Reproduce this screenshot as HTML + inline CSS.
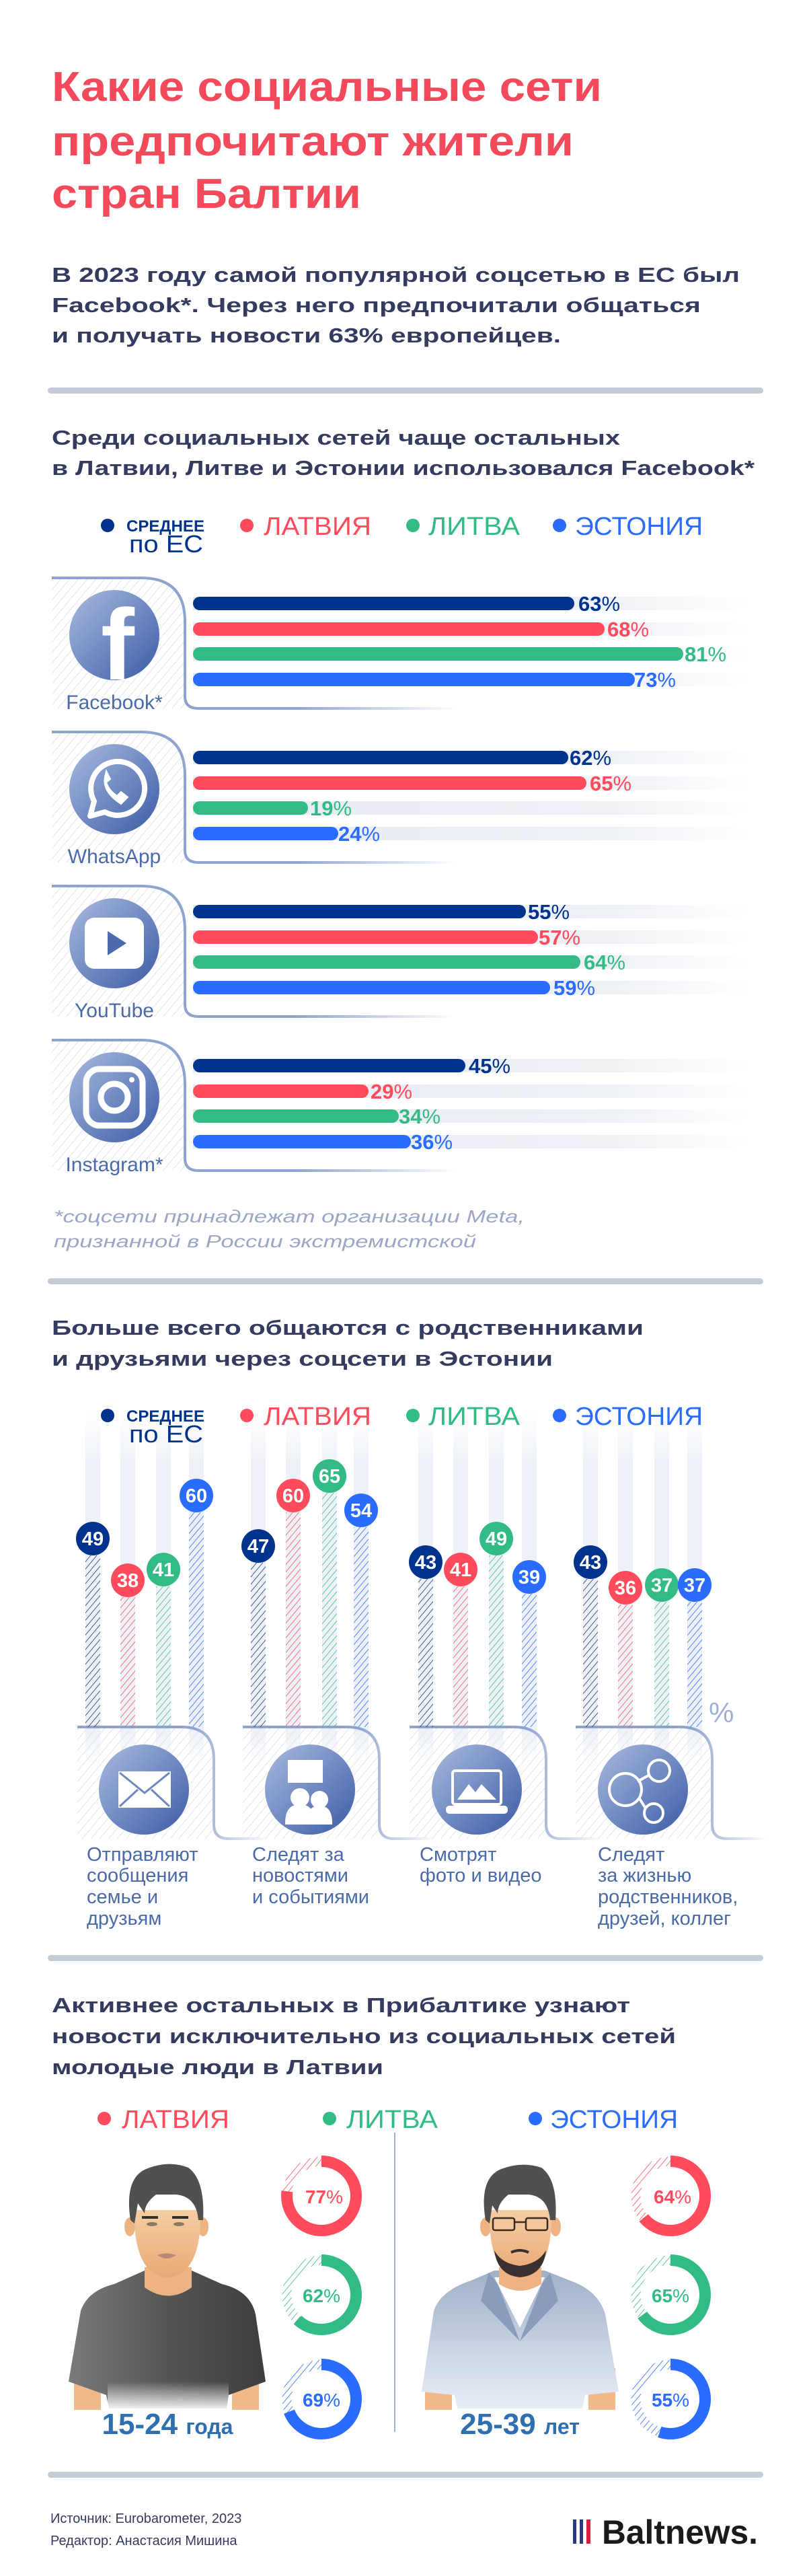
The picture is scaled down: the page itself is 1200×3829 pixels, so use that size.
<!DOCTYPE html>
<html><head><meta charset="utf-8"><style>
html,body{margin:0;padding:0;background:#fff}
svg{display:block}
text{font-family:"Liberation Sans",sans-serif}
</style></head><body>
<svg width="1200" height="3829" viewBox="0 0 1200 3829" xmlns="http://www.w3.org/2000/svg">
<defs>
<pattern id="hg" width="10" height="10" patternUnits="userSpaceOnUse" patternTransform="rotate(40)"><line x1="0" y1="0" x2="0" y2="10" stroke="#dfe4ee" stroke-width="2"/></pattern>
<pattern id="hN" width="7" height="7" patternUnits="userSpaceOnUse" patternTransform="rotate(40)"><line x1="0" y1="0" x2="0" y2="7" stroke="#1d3577" stroke-width="1.6"/></pattern>
<pattern id="hR" width="7" height="7" patternUnits="userSpaceOnUse" patternTransform="rotate(40)"><line x1="0" y1="0" x2="0" y2="7" stroke="#ff4b5c" stroke-width="1.6"/></pattern>
<pattern id="hG" width="7" height="7" patternUnits="userSpaceOnUse" patternTransform="rotate(40)"><line x1="0" y1="0" x2="0" y2="7" stroke="#33bb85" stroke-width="1.6"/></pattern>
<pattern id="hB" width="7" height="7" patternUnits="userSpaceOnUse" patternTransform="rotate(40)"><line x1="0" y1="0" x2="0" y2="7" stroke="#2a6cff" stroke-width="1.6"/></pattern>
<linearGradient id="ic" x1="0" y1="0" x2="1" y2="1"><stop offset="0" stop-color="#a9bbdf"/><stop offset="1" stop-color="#3b5ba6"/></linearGradient>
<linearGradient id="trk" x1="0" x2="1"><stop offset="0" stop-color="#e6ebf3"/><stop offset="0.75" stop-color="#eef1f6"/><stop offset="1" stop-color="#fff"/></linearGradient>
<linearGradient id="btm" x1="0" x2="1"><stop offset="0" stop-color="#8fa3cf"/><stop offset="0.6" stop-color="#8fa3cf"/><stop offset="1" stop-color="#fff"/></linearGradient>
<linearGradient id="vt" x1="0" y1="0" x2="0" y2="1"><stop offset="0" stop-color="#fff"/><stop offset="0.15" stop-color="#eef2f8"/><stop offset="0.9" stop-color="#eef2f8"/><stop offset="1" stop-color="#fff"/></linearGradient>
<linearGradient id="shirt" x1="0" x2="1"><stop offset="0" stop-color="#7a7a7a"/><stop offset="0.5" stop-color="#555"/><stop offset="1" stop-color="#3e3e3e"/></linearGradient>
<linearGradient id="jack" x1="0" y1="0" x2="0" y2="1"><stop offset="0" stop-color="#9fb0c8"/><stop offset="1" stop-color="#e8eef8"/></linearGradient>
<linearGradient id="skin" x1="0" y1="0" x2="0" y2="1"><stop offset="0" stop-color="#f6cfa4"/><stop offset="1" stop-color="#e8a874"/></linearGradient>
<linearGradient id="fadeW" x1="0" y1="0" x2="0" y2="1"><stop offset="0" stop-color="#fff" stop-opacity="0"/><stop offset="1" stop-color="#fff" stop-opacity="0.95"/></linearGradient>
</defs>

<!-- Title -->
<g fill="#f24a5b" font-weight="bold" font-size="62">
<text x="77" y="150" textLength="818" lengthAdjust="spacingAndGlyphs">Какие социальные сети</text>
<text x="77" y="231" textLength="776" lengthAdjust="spacingAndGlyphs">предпочитают жители</text>
<text x="77" y="309" textLength="460" lengthAdjust="spacingAndGlyphs">стран Балтии</text>
</g>
<g fill="#353b5e" font-weight="bold" font-size="31">
<text x="77" y="419" textLength="1023" lengthAdjust="spacingAndGlyphs">В 2023 году самой популярной соцсетью в ЕС был</text>
<text x="77" y="464" textLength="965" lengthAdjust="spacingAndGlyphs">Facebook*. Через него предпочитали общаться</text>
<text x="77" y="509" textLength="757" lengthAdjust="spacingAndGlyphs">и получать новости 63% европейцев.</text>
</g>
<rect x="71" y="576" width="1064" height="9" rx="4.5" fill="#c4ccd8"/>

<g fill="#353b5e" font-weight="bold" font-size="31">
<text x="77" y="661" textLength="845" lengthAdjust="spacingAndGlyphs">Среди социальных сетей чаще остальных</text>
<text x="77" y="706" textLength="1045" lengthAdjust="spacingAndGlyphs">в Латвии, Литве и Эстонии использовался Facebook*</text>
</g>

<!-- Legend 1 -->
<g id="leg1">
<circle cx="160" cy="781" r="10" fill="#00338d"/>
<text x="188" y="790" font-size="24" font-weight="bold" fill="#00338d" textLength="116" lengthAdjust="spacingAndGlyphs">СРЕДНЕЕ</text>
<text x="192" y="821" font-size="36" fill="#00338d" textLength="110" lengthAdjust="spacingAndGlyphs">по ЕС</text>
<circle cx="367" cy="781" r="10" fill="#ff4b5c"/>
<text x="392" y="795" font-size="38" fill="#ff4b5c" textLength="160" lengthAdjust="spacingAndGlyphs">ЛАТВИЯ</text>
<circle cx="614" cy="781" r="10" fill="#33bb85"/>
<text x="637" y="795" font-size="38" fill="#33bb85" textLength="136" lengthAdjust="spacingAndGlyphs">ЛИТВА</text>
<circle cx="832" cy="781" r="10" fill="#2a6cff"/>
<text x="855" y="795" font-size="38" fill="#2a6cff" textLength="190" lengthAdjust="spacingAndGlyphs">ЭСТОНИЯ</text>
</g>

<!-- Cards -->
<g id="card0" transform="translate(0,859)">
<path d="M77 0 H210 Q275 0 275 65 V180 Q275 194 292 194 H77 Z" fill="url(#hg)"/>
<path d="M77 0 H210 Q275 0 275 65 V176 Q275 194 295 194 H680" fill="none" stroke="url(#btm)" stroke-width="4"/>
<rect x="287" y="28" width="830" height="20" fill="url(#trk)"/>
<rect x="287" y="66" width="830" height="20" fill="url(#trk)"/>
<rect x="287" y="103" width="830" height="20" fill="url(#trk)"/>
<rect x="287" y="141" width="830" height="20" fill="url(#trk)"/>
<circle cx="170" cy="85" r="67" fill="url(#ic)"/>
</g>
<use href="#card0" transform="translate(0,229)"/>
<use href="#card0" transform="translate(0,458)"/>
<use href="#card0" transform="translate(0,687)"/>

<!-- icons -->
<text x="175" y="1010" font-size="150" font-weight="bold" fill="#fff" text-anchor="middle">f</text>
<g transform="translate(170,1173)" fill="none" stroke="#fff" stroke-width="8">
<path d="M-36 40 L-30 18 A40 40 0 1 1 -14 34 Z" stroke-linejoin="round"/>
<path d="M-14 -18 q-4 22 24 40 l10 -10 l-10 -8 l-6 6 q-12 -8 -16 -20 l6 -5 l-6 -12 z" fill="#fff" stroke-width="2"/>
</g>
<g transform="translate(170,1402)">
<rect x="-44" y="-38" width="88" height="76" rx="14" fill="#fff"/>
<path d="M-10 -18 L18 0 L-10 18 Z" fill="#4d6aae"/>
</g>
<g transform="translate(170,1631)" fill="none" stroke="#fff" stroke-width="9">
<rect x="-42" y="-42" width="84" height="84" rx="20"/>
<circle cx="0" cy="0" r="20"/>
<circle cx="26" cy="-26" r="4" fill="#fff" stroke="none"/>
</g>

<g font-size="30" fill="#4a6aa8" text-anchor="middle">
<text x="170" y="1054">Facebook*</text>
<text x="170" y="1283">WhatsApp</text>
<text x="170" y="1512">YouTube</text>
<text x="170" y="1741">Instagram*</text>
</g>

<!-- bars -->
<g font-size="31" font-weight="bold">
<rect x="287" y="887" width="567" height="20" rx="10" fill="#00338d"/><text x="860" y="908" fill="#00338d">63<tspan font-weight="normal">%</tspan></text>
<rect x="287" y="925" width="612" height="20" rx="10" fill="#ff4b5c"/><text x="903" y="946" fill="#ff4b5c">68<tspan font-weight="normal">%</tspan></text>
<rect x="287" y="962" width="729" height="20" rx="10" fill="#33bb85"/><text x="1018" y="983" fill="#33bb85">81<tspan font-weight="normal">%</tspan></text>
<rect x="287" y="1000" width="657" height="20" rx="10" fill="#2a6cff"/><text x="943" y="1021" fill="#2a6cff">73<tspan font-weight="normal">%</tspan></text>

<rect x="287" y="1116" width="558" height="20" rx="10" fill="#00338d"/><text x="847" y="1137" fill="#00338d">62<tspan font-weight="normal">%</tspan></text>
<rect x="287" y="1154" width="585" height="20" rx="10" fill="#ff4b5c"/><text x="877" y="1175" fill="#ff4b5c">65<tspan font-weight="normal">%</tspan></text>
<rect x="287" y="1191" width="171" height="20" rx="10" fill="#33bb85"/><text x="461" y="1212" fill="#33bb85">19<tspan font-weight="normal">%</tspan></text>
<rect x="287" y="1229" width="216" height="20" rx="10" fill="#2a6cff"/><text x="503" y="1250" fill="#2a6cff">24<tspan font-weight="normal">%</tspan></text>

<rect x="287" y="1345" width="495" height="20" rx="10" fill="#00338d"/><text x="785" y="1366" fill="#00338d">55<tspan font-weight="normal">%</tspan></text>
<rect x="287" y="1383" width="513" height="20" rx="10" fill="#ff4b5c"/><text x="801" y="1404" fill="#ff4b5c">57<tspan font-weight="normal">%</tspan></text>
<rect x="287" y="1420" width="576" height="20" rx="10" fill="#33bb85"/><text x="868" y="1441" fill="#33bb85">64<tspan font-weight="normal">%</tspan></text>
<rect x="287" y="1458" width="531" height="20" rx="10" fill="#2a6cff"/><text x="823" y="1479" fill="#2a6cff">59<tspan font-weight="normal">%</tspan></text>

<rect x="287" y="1574" width="405" height="20" rx="10" fill="#00338d"/><text x="697" y="1595" fill="#00338d">45<tspan font-weight="normal">%</tspan></text>
<rect x="287" y="1612" width="261" height="20" rx="10" fill="#ff4b5c"/><text x="551" y="1633" fill="#ff4b5c">29<tspan font-weight="normal">%</tspan></text>
<rect x="287" y="1649" width="306" height="20" rx="10" fill="#33bb85"/><text x="593" y="1670" fill="#33bb85">34<tspan font-weight="normal">%</tspan></text>
<rect x="287" y="1687" width="324" height="20" rx="10" fill="#2a6cff"/><text x="611" y="1708" fill="#2a6cff">36<tspan font-weight="normal">%</tspan></text>
</g>

<g font-size="26" font-style="italic" fill="#9aa6c4">
<text x="80" y="1817" textLength="700" lengthAdjust="spacingAndGlyphs">*соцсети принадлежат организации Meta,</text>
<text x="80" y="1854" textLength="628" lengthAdjust="spacingAndGlyphs">признанной в России экстремистской</text>
</g>
<rect x="71" y="1900" width="1064" height="9" rx="4.5" fill="#c4ccd8"/>

<g fill="#353b5e" font-weight="bold" font-size="31">
<text x="77" y="1984" textLength="880" lengthAdjust="spacingAndGlyphs">Больше всего общаются с родственниками</text>
<text x="77" y="2030" textLength="745" lengthAdjust="spacingAndGlyphs">и друзьями через соцсети в Эстонии</text>
</g>

<!-- tracks -->
<g fill="url(#vt)">
<rect x="127" y="2095" width="22" height="530"/><rect x="179" y="2095" width="22" height="530"/><rect x="232" y="2095" width="22" height="530"/><rect x="281" y="2095" width="22" height="530"/>
<rect x="373" y="2095" width="22" height="530"/><rect x="425" y="2095" width="22" height="530"/><rect x="479" y="2095" width="22" height="530"/><rect x="526" y="2095" width="22" height="530"/>
<rect x="622" y="2095" width="22" height="530"/><rect x="674" y="2095" width="22" height="530"/><rect x="727" y="2095" width="22" height="530"/><rect x="776" y="2095" width="22" height="530"/>
<rect x="867" y="2095" width="22" height="530"/><rect x="919" y="2095" width="22" height="530"/><rect x="973" y="2095" width="22" height="530"/><rect x="1022" y="2095" width="22" height="530"/>
</g>
<use href="#leg1" transform="translate(0,1323)"/>

<!-- group cards -->
<g id="gc">
<path d="M115 2567 H270 Q318 2567 318 2615 V2733 H115 Z" fill="url(#hg)"/>
<path d="M115 2567 H270 Q318 2567 318 2615 V2712 Q318 2733 340 2733 H400" fill="none" stroke="url(#btm)" stroke-width="4"/>
</g>
<use href="#gc" transform="translate(246,0)"/>
<use href="#gc" transform="translate(494,0)"/>
<use href="#gc" transform="translate(741,0)"/>

<!-- stems -->
<rect x="127" y="2312" width="22" height="255" fill="url(#hN)"/>
<rect x="179" y="2374" width="22" height="193" fill="url(#hR)"/>
<rect x="232" y="2358" width="22" height="209" fill="url(#hG)"/>
<rect x="281" y="2248" width="22" height="319" fill="url(#hB)"/>
<rect x="373" y="2323" width="22" height="244" fill="url(#hN)"/>
<rect x="425" y="2248" width="22" height="319" fill="url(#hR)"/>
<rect x="479" y="2219" width="22" height="348" fill="url(#hG)"/>
<rect x="526" y="2270" width="22" height="297" fill="url(#hB)"/>
<rect x="622" y="2347" width="22" height="220" fill="url(#hN)"/>
<rect x="674" y="2358" width="22" height="209" fill="url(#hR)"/>
<rect x="727" y="2312" width="22" height="255" fill="url(#hG)"/>
<rect x="776" y="2369" width="22" height="198" fill="url(#hB)"/>
<rect x="867" y="2347" width="22" height="220" fill="url(#hN)"/>
<rect x="919" y="2385" width="22" height="182" fill="url(#hR)"/>
<rect x="973" y="2381" width="22" height="186" fill="url(#hG)"/>
<rect x="1022" y="2381" width="22" height="186" fill="url(#hB)"/>

<g font-size="29" font-weight="bold" fill="#fff" text-anchor="middle" stroke="#fff" stroke-width="0">
<circle cx="138" cy="2287" r="25" fill="#00338d"/><text x="138" y="2297">49</text>
<circle cx="190" cy="2349" r="25" fill="#ff4b5c"/><text x="190" y="2359">38</text>
<circle cx="243" cy="2333" r="25" fill="#33bb85"/><text x="243" y="2343">41</text>
<circle cx="292" cy="2223" r="25" fill="#2a6cff"/><text x="292" y="2233">60</text>
<circle cx="384" cy="2298" r="25" fill="#00338d"/><text x="384" y="2308">47</text>
<circle cx="436" cy="2223" r="25" fill="#ff4b5c"/><text x="436" y="2233">60</text>
<circle cx="490" cy="2194" r="25" fill="#33bb85"/><text x="490" y="2204">65</text>
<circle cx="537" cy="2245" r="25" fill="#2a6cff"/><text x="537" y="2255">54</text>
<circle cx="633" cy="2322" r="25" fill="#00338d"/><text x="633" y="2332">43</text>
<circle cx="685" cy="2333" r="25" fill="#ff4b5c"/><text x="685" y="2343">41</text>
<circle cx="738" cy="2287" r="25" fill="#33bb85"/><text x="738" y="2297">49</text>
<circle cx="787" cy="2344" r="25" fill="#2a6cff"/><text x="787" y="2354">39</text>
<circle cx="878" cy="2322" r="25" fill="#00338d"/><text x="878" y="2332">43</text>
<circle cx="930" cy="2360" r="25" fill="#ff4b5c"/><text x="930" y="2370">36</text>
<circle cx="984" cy="2356" r="25" fill="#33bb85"/><text x="984" y="2366">37</text>
<circle cx="1033" cy="2356" r="25" fill="#2a6cff"/><text x="1033" y="2366">37</text>
</g>
<text x="1054" y="2560" font-size="42" fill="#9fb0d4">%</text>

<!-- group icons -->
<circle cx="214" cy="2660" r="67" fill="url(#ic)"/>
<circle cx="461" cy="2660" r="67" fill="url(#ic)"/>
<circle cx="709" cy="2660" r="67" fill="url(#ic)"/>
<circle cx="956" cy="2660" r="67" fill="url(#ic)"/>
<g fill="none" stroke="#fff" stroke-width="4">
<rect x="178" y="2635" width="74" height="50" fill="#fff"/>
<path d="M178 2635 L215 2665 L252 2635 M178 2685 L205 2660 M252 2685 L225 2660" stroke="#6d86bd" stroke-width="3"/>
<rect x="430" y="2618" width="48" height="30" fill="#fff"/>
<circle cx="446" cy="2672" r="12" fill="#fff"/><circle cx="475" cy="2675" r="11" fill="#fff"/>
<path d="M426 2710 q0 -26 20 -26 q20 0 20 26 Z M458 2710 q0 -24 17 -24 q17 0 17 24 Z" fill="#fff"/>
<rect x="673" y="2632" width="72" height="50" rx="4"/>
<path d="M680 2675 L697 2652 L707 2664 L716 2652 L738 2675 Z" fill="#fff" stroke="none"/>
<rect x="665" y="2686" width="88" height="8" rx="3" fill="#fff"/>
<circle cx="930" cy="2660" r="24"/><circle cx="980" cy="2632" r="16"/><circle cx="972" cy="2695" r="14"/>
<path d="M948 2648 L966 2638 M950 2672 L960 2688"/>
</g>

<g font-size="29" fill="#4a6aa8">
<text x="129" y="2766">Отправляют</text><text x="129" y="2797">сообщения</text><text x="129" y="2829">семье и</text><text x="129" y="2861">друзьям</text>
<text x="375" y="2766">Следят за</text><text x="375" y="2797">новостями</text><text x="375" y="2829">и событиями</text>
<text x="624" y="2766">Смотрят</text><text x="624" y="2797">фото и видео</text>
<text x="889" y="2766">Следят</text><text x="889" y="2797">за жизнью</text><text x="889" y="2829">родственников,</text><text x="889" y="2861">друзей, коллег</text>
</g>

<rect x="71" y="2906" width="1064" height="9" rx="4.5" fill="#c4ccd8"/>
<g fill="#353b5e" font-weight="bold" font-size="31">
<text x="77" y="2991" textLength="860" lengthAdjust="spacingAndGlyphs">Активнее остальных в Прибалтике узнают</text>
<text x="77" y="3037" textLength="928" lengthAdjust="spacingAndGlyphs">новости исключительно из социальных сетей</text>
<text x="77" y="3083" textLength="493" lengthAdjust="spacingAndGlyphs">молодые люди в Латвии</text>
</g>

<circle cx="155" cy="3149" r="10" fill="#ff4b5c"/>
<text x="181" y="3163" font-size="38" fill="#ff4b5c" textLength="160" lengthAdjust="spacingAndGlyphs">ЛАТВИЯ</text>
<circle cx="490" cy="3149" r="10" fill="#33bb85"/>
<text x="515" y="3163" font-size="38" fill="#33bb85" textLength="136" lengthAdjust="spacingAndGlyphs">ЛИТВА</text>
<circle cx="796" cy="3149" r="10" fill="#2a6cff"/>
<text x="818" y="3163" font-size="38" fill="#2a6cff" textLength="190" lengthAdjust="spacingAndGlyphs">ЭСТОНИЯ</text>
<line x1="587" y1="3170" x2="587" y2="3615" stroke="#9fb0d4" stroke-width="2"/>

<!-- person 1 -->
<g>
<rect x="110" y="3520" width="40" height="62" fill="#f0b98a"/>
<rect x="345" y="3520" width="40" height="62" fill="#f0b98a"/>
<path d="M102 3540 L120 3435 Q130 3405 170 3395 L215 3375 H285 L330 3395 Q372 3405 380 3440 L395 3540 L340 3560 L337 3580 H162 L158 3560 Z" fill="url(#shirt)"/>
<rect x="160" y="3540" width="180" height="42" fill="url(#fadeW)"/>
<path d="M215 3370 V3400 Q250 3425 285 3400 V3370 Z" fill="#eeb383"/>
<ellipse cx="193" cy="3310" rx="8" ry="14" fill="#eeb383"/>
<ellipse cx="302" cy="3310" rx="8" ry="14" fill="#eeb383"/>
<path d="M200 3285 Q198 3360 230 3380 Q248 3390 268 3380 Q300 3360 298 3285 Z" fill="url(#skin)"/>
<path d="M194 3300 Q185 3240 215 3225 Q250 3210 280 3222 Q305 3240 302 3300 L295 3300 Q292 3265 262 3262 L232 3262 Q215 3275 215 3290 L205 3275 L200 3305 Z" fill="#505050"/>
<path d="M211 3296 h24 M256 3296 h24" stroke="#333" stroke-width="4"/>
<ellipse cx="226" cy="3306" rx="8" ry="3" fill="#8a7a64"/><ellipse cx="266" cy="3306" rx="8" ry="3" fill="#8a7a64"/>
<path d="M234 3352 q14 -5 28 0 q-14 10 -28 0 Z" fill="#b88a74"/>
</g>
<!-- person 2 -->
<g>
<rect x="632" y="3520" width="40" height="62" fill="#f0b98a"/>
<rect x="875" y="3520" width="40" height="62" fill="#f0b98a"/>
<path d="M627 3555 L645 3435 Q655 3405 700 3390 L735 3375 H810 L848 3390 Q890 3405 900 3440 L920 3555 L870 3560 L866 3580 H680 L676 3560 Z" fill="url(#jack)"/>
<path d="M735 3385 L773 3460 L810 3385 Z" fill="#fff"/>
<path d="M727 3378 L715 3420 L773 3480 L740 3395 Z M818 3378 L830 3420 L773 3480 L806 3395 Z" fill="#8a9cbb"/>
<path d="M742 3370 V3395 Q773 3415 805 3395 V3370 Z" fill="#eeb383"/>
<ellipse cx="722" cy="3310" rx="8" ry="14" fill="#eeb383"/>
<ellipse cx="826" cy="3310" rx="8" ry="14" fill="#eeb383"/>
<path d="M728 3285 Q726 3360 755 3378 Q773 3388 792 3378 Q822 3360 820 3285 Z" fill="url(#skin)"/>
<path d="M735 3345 Q740 3382 773 3385 Q808 3382 812 3345 Q800 3365 773 3368 Q746 3365 735 3345 Z" fill="#3a3030"/>
<path d="M760 3348 q13 -6 26 0" stroke="#3a3030" stroke-width="4" fill="none"/>
<path d="M722 3300 Q712 3240 743 3225 Q775 3212 805 3222 Q830 3240 826 3300 L818 3300 Q815 3265 786 3262 L756 3262 Q740 3275 740 3290 L732 3278 L728 3305 Z" fill="#505050"/>
<g fill="none" stroke="#3a2a20" stroke-width="2.5"><rect x="733" y="3297" width="32" height="18" rx="3"/><rect x="782" y="3297" width="32" height="18" rx="3"/><path d="M765 3303 h17"/></g>
</g>
<text x="249" y="3618" text-anchor="middle" fill="#2e6fb0" font-weight="bold" font-size="44">15-24 <tspan font-size="32">года</tspan></text>
<text x="773" y="3618" text-anchor="middle" fill="#2e6fb0" font-weight="bold" font-size="44">25-39 <tspan font-size="32">лет</tspan></text>

<!-- donuts -->
<g fill="none" stroke-width="17">
<circle cx="478" cy="3264" r="51.5" stroke="url(#hR)" stroke-width="14"/>
<circle cx="478" cy="3264" r="51.5" stroke="#ff4b5c" stroke-dasharray="249.2 400" transform="rotate(-90 478 3264)"/>
<circle cx="478" cy="3411" r="51.5" stroke="url(#hG)" stroke-width="14"/>
<circle cx="478" cy="3411" r="51.5" stroke="#33bb85" stroke-dasharray="200.6 400" transform="rotate(-90 478 3411)"/>
<circle cx="478" cy="3566" r="51.5" stroke="url(#hB)" stroke-width="14"/>
<circle cx="478" cy="3566" r="51.5" stroke="#2a6cff" stroke-dasharray="223.3 400" transform="rotate(-90 478 3566)"/>
<circle cx="997" cy="3264" r="51.5" stroke="url(#hR)" stroke-width="14"/>
<circle cx="997" cy="3264" r="51.5" stroke="#ff4b5c" stroke-dasharray="207.1 400" transform="rotate(-90 997 3264)"/>
<circle cx="997" cy="3411" r="51.5" stroke="url(#hG)" stroke-width="14"/>
<circle cx="997" cy="3411" r="51.5" stroke="#33bb85" stroke-dasharray="210.3 400" transform="rotate(-90 997 3411)"/>
<circle cx="997" cy="3566" r="51.5" stroke="url(#hB)" stroke-width="14"/>
<circle cx="997" cy="3566" r="51.5" stroke="#2a6cff" stroke-dasharray="178 400" transform="rotate(-90 997 3566)"/>
</g>
<g font-size="28" font-weight="bold" text-anchor="middle">
<text x="482" y="3275" fill="#ff4b5c">77<tspan font-weight="normal">%</tspan></text>
<text x="478" y="3422" fill="#33bb85">62<tspan font-weight="normal">%</tspan></text>
<text x="478" y="3577" fill="#2a6cff">69<tspan font-weight="normal">%</tspan></text>
<text x="1000" y="3275" fill="#ff4b5c">64<tspan font-weight="normal">%</tspan></text>
<text x="997" y="3422" fill="#33bb85">65<tspan font-weight="normal">%</tspan></text>
<text x="997" y="3577" fill="#2a6cff">55<tspan font-weight="normal">%</tspan></text>
</g>

<rect x="71" y="3674" width="1064" height="9" rx="4.5" fill="#c4ccd8"/>
<g font-size="20" fill="#353b5e">
<text x="75" y="3750">Источник: Eurobarometer, 2023</text>
<text x="75" y="3783">Редактор: Анастасия Мишина</text>
</g>
<rect x="852" y="3745" width="5" height="36" fill="#2b3a7a"/>
<rect x="862" y="3745" width="5" height="36" fill="#2b3a7a"/>
<rect x="872" y="3745" width="6" height="36" fill="#d61f3c"/>
<text x="895" y="3781" font-size="50" font-weight="bold" fill="#1a1a1a" textLength="232" lengthAdjust="spacingAndGlyphs">Baltnews.</text>
</svg>
</body></html>
